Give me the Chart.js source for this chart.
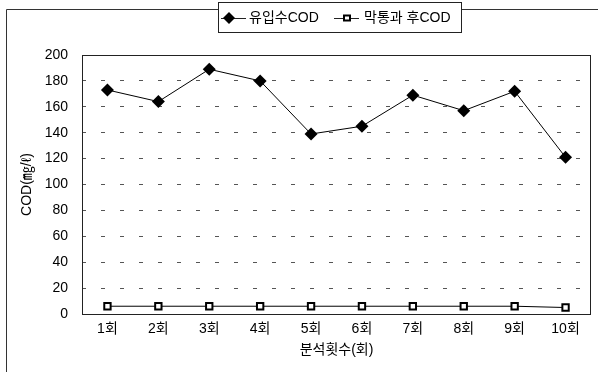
<!DOCTYPE html>
<html>
<head>
<meta charset="utf-8">
<script src="https://cdn.jsdelivr.net/npm/chart.js@4/dist/chart.umd.min.js"></script>
<style>
  html, body { margin: 0; padding: 0; background: #fff; }
  #wrap { width: 598px; height: 372px; }
</style>
</head>
<body>
<div id="wrap"><canvas id="cod"></canvas></div>
<script>
// data
const rounds = ['1회', '2회', '3회', '4회', '5회', '6회', '7회', '8회', '9회', '10회'];
const inflowCOD = [173, 164, 189, 180, 139, 145, 169, 157, 172, 121];
const membraneCOD = [6, 6, 6, 6, 6, 6, 6, 6, 6, 5];
const seriesNames = ['유입수COD', '막통과 후COD'];

const FONT = "Arial, 'Liberation Sans', 'Noto Sans CJK KR', sans-serif";

// outer frame, plot frame and the boxed legend
const framePlugin = {
    id: 'frame',
    beforeDraw(chart) {
        const ctx = chart.ctx;
        ctx.save();
        ctx.fillStyle = '#fff';
        ctx.fillRect(0, 0, chart.width, chart.height);
        ctx.strokeStyle = '#333';
        ctx.lineWidth = 1;
        ctx.beginPath();
        ctx.moveTo(6.5, chart.height);
        ctx.lineTo(6.5, 9.5);
        ctx.lineTo(chart.width, 9.5);
        ctx.stroke();
        ctx.restore();
    },
    afterDraw(chart) {
        const ctx = chart.ctx;
        const a = chart.chartArea;
        ctx.save();
        ctx.strokeStyle = '#222';
        ctx.lineWidth = 1;
        ctx.strokeRect(Math.round(a.left) + 0.5, Math.round(a.top) + 0.5,
            Math.round(a.right - a.left) - 1, Math.round(a.bottom - a.top));

        // legend box
        ctx.fillStyle = '#fff';
        ctx.fillRect(218, 2, 244, 31);
        ctx.strokeStyle = '#222';
        ctx.strokeRect(218.5, 2.5, 243, 30);
        const cy = 18;
        ctx.fillStyle = '#000';
        ctx.font = '14px ' + FONT;
        ctx.textBaseline = 'middle';

        // item 1: line + diamond
        ctx.beginPath();
        ctx.moveTo(221, cy + 0.5);
        ctx.lineTo(246, cy + 0.5);
        ctx.stroke();
        ctx.beginPath();
        ctx.moveTo(229, cy - 6);
        ctx.lineTo(235, cy);
        ctx.lineTo(229, cy + 6);
        ctx.lineTo(223, cy);
        ctx.closePath();
        ctx.fill();
        ctx.fillText(seriesNames[0], 249, cy);

        // item 2: line + hollow square
        ctx.beginPath();
        ctx.moveTo(334, cy + 0.5);
        ctx.lineTo(359, cy + 0.5);
        ctx.stroke();
        ctx.fillRect(343, cy - 3.5, 8, 7);
        ctx.fillStyle = '#fff';
        ctx.fillRect(345, cy - 1.5, 4, 3);
        ctx.fillStyle = '#000';
        ctx.fillText(seriesNames[1], 364, cy);
        ctx.restore();
    }
};

new Chart(document.getElementById('cod'), {
    type: 'line',
    data: {
        labels: rounds,
        datasets: [{
            label: seriesNames[0],
            data: inflowCOD,
            borderColor: '#000',
            backgroundColor: '#000',
            borderWidth: 1,
            pointStyle: 'rectRot',
            pointRadius: 6.5,
            pointBorderWidth: 0,
            tension: 0
        }, {
            label: seriesNames[1],
            data: membraneCOD,
            borderColor: '#000',
            backgroundColor: '#fff',
            borderWidth: 1,
            pointStyle: 'rect',
            pointRadius: 4.5,
            pointBorderWidth: 2,
            tension: 0
        }]
    },
    options: {
        responsive: true,
        maintainAspectRatio: false,
        animation: false,
        layout: { padding: { top: 55, right: 7, left: 0, bottom: 0 } },
        plugins: { legend: { display: false }, tooltip: { enabled: false } },
        scales: {
            x: {
                offset: true,
                grid: { display: false, drawTicks: false, offset: true },
                border: { display: false },
                ticks: { color: '#000', padding: 7, font: { size: 14, family: FONT } },
                title: {
                    display: true,
                    text: '분석횟수(회)',
                    color: '#000',
                    padding: { top: 0, bottom: 13 },
                    font: { size: 14, family: FONT }
                },
                afterFit(scale) { scale.height = 58; }
            },
            y: {
                min: 0,
                max: 200,
                grid: {
                    drawTicks: false,
                    color: (c) => (c.tick && (c.tick.value === 0 || c.tick.value === 200)) ? 'rgba(0,0,0,0)' : '#555',
                    lineWidth: 1
                },
                border: { display: false, dash: [4, 15] },
                ticks: { stepSize: 20, color: '#000', padding: 14, font: { size: 14, family: FONT } },
                title: {
                    display: true,
                    text: 'COD(㎎/ℓ)',
                    color: '#000',
                    padding: { top: 19, bottom: 0 },
                    font: { size: 14, family: FONT }
                },
                afterFit(scale) { scale.width = 82; }
            }
        }
    },
    plugins: [framePlugin]
});
</script>
</body>
</html>
